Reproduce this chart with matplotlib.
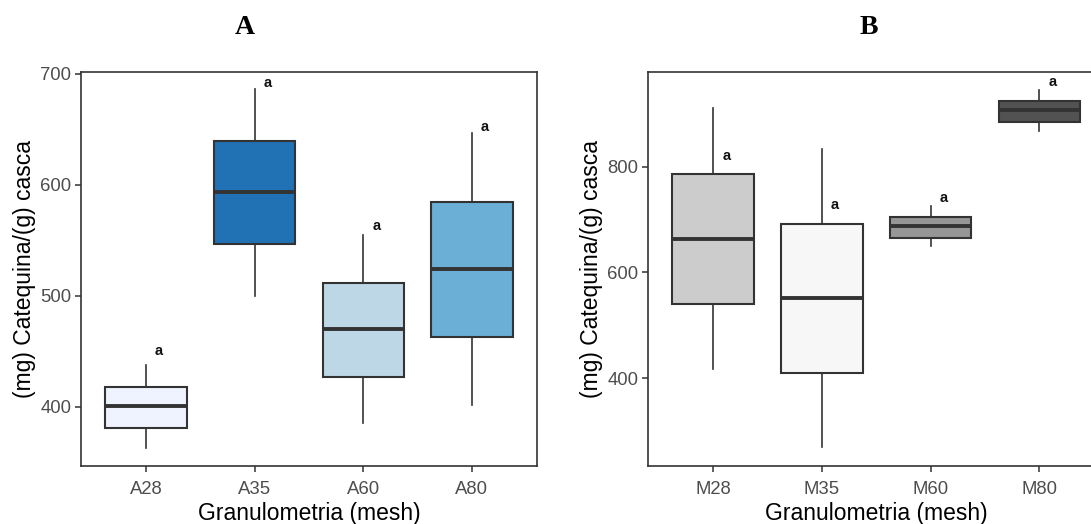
import matplotlib
matplotlib.use("Agg")
import matplotlib.pyplot as plt

# ---- Data ----
cats_a = ["A28", "A35", "A60", "A80"]
whislo_a = [363, 500, 385, 402]
q1_a = [381, 547, 427, 463]
med_a = [401, 594, 470, 524]
q3_a = [418, 640, 512, 585]
whishi_a = [438, 686, 555, 647]
label_y_a = [450, 692, 563, 652]
letters_a = ["a", "a", "a", "a"]
colors_a = ["#EFF3FF", "#2171B5", "#BDD7E7", "#6BAED6"]

cats_b = ["M28", "M35", "M60", "M80"]
whislo_b = [417, 269, 649, 868]
q1_b = [540, 409, 665, 884]
med_b = [663, 551, 688, 907]
q3_b = [785, 692, 704, 923]
whishi_b = [911, 834, 726, 945]
label_y_b = [820, 728, 740, 959]
letters_b = ["a", "a", "a", "a"]
colors_b = ["#CCCCCC", "#F7F7F7", "#969696", "#525252"]

yticks_a = [400, 500, 600, 700]
yticks_b = [400, 600, 800]

W, H = 1091, 524
fig = plt.figure(figsize=(W / 100, H / 100), dpi=100)

SANS = ["Liberation Sans", "DejaVu Sans"]
SERIF = ["Liberation Serif", "DejaVu Serif"]
EDGE = "#333333"


def panel(ax, cats, lo, q1, med, q3, hi, laby, letters, colors, ylim, yticks):
    stats = []
    for c, a, b, m, d, e in zip(cats, lo, q1, med, q3, hi):
        stats.append(dict(label=c, whislo=a, q1=b, med=m, q3=d, whishi=e, fliers=[]))
    pos = list(range(1, len(cats) + 1))
    bp = ax.bxp(stats, positions=pos, widths=0.75, patch_artist=True,
                showcaps=False, showfliers=False,
                boxprops=dict(edgecolor=EDGE, linewidth=1.5),
                whiskerprops=dict(color=EDGE, linewidth=1.2),
                medianprops=dict(color=EDGE, linewidth=2.8, solid_capstyle="butt"))
    for patch, col in zip(bp["boxes"], colors):
        patch.set_facecolor(col)
    for p, y, t in zip(pos, laby, letters):
        ax.text(p + 0.12, y, t, ha="center", va="center", fontsize=10.5,
                family=SANS, fontweight="bold", color="#111111")
    ax.set_xlim(0.4, 4.6)
    ax.set_ylim(*ylim)
    ax.set_yticks(yticks)
    ax.set_xticks(pos)
    ax.set_xticklabels(cats)
    for s in ax.spines.values():
        s.set_color(EDGE)
        s.set_linewidth(1.2)
    ax.tick_params(axis="both", colors=EDGE, length=4, width=1.1,
                   labelsize=13.3, labelcolor="#4D4D4D")
    ax.tick_params(axis="x", pad=7)
    ax.tick_params(axis="y", pad=3)
    for lab in ax.get_xticklabels() + ax.get_yticklabels():
        lab.set_family(SANS)
    ax.set_xlabel("Granulometria (mesh)", fontsize=16.5, family=SANS, labelpad=2.5)
    ax.set_ylabel("(mg) Catequina/(g) casca", fontsize=16.5, family=SANS, labelpad=3)


axA = fig.add_axes([81 / W, 1 - 466 / H, 456 / W, (466 - 72.5) / H])
panel(axA, cats_a, whislo_a, q1_a, med_a, q3_a, whishi_a, label_y_a, letters_a,
      colors_a, (346.6, 701.3), yticks_a)

# panel B extends past the right edge of the figure, as in the (cropped) reference
axB = fig.add_axes([648 / W, 1 - 466 / H, 456.5 / W, (466 - 72.5) / H])
panel(axB, cats_b, whislo_b, q1_b, med_b, q3_b, whishi_b, label_y_b, letters_b,
      colors_b, (234, 977.7), yticks_b)

fig.text(245 / W, 1 - 28 / H, "A", ha="center", va="center", fontsize=20,
         family=SERIF, fontweight="bold")
fig.text(869 / W, 1 - 28 / H, "B", ha="center", va="center", fontsize=20,
         family=SERIF, fontweight="bold")

fig.savefig("out.png", dpi=100)
